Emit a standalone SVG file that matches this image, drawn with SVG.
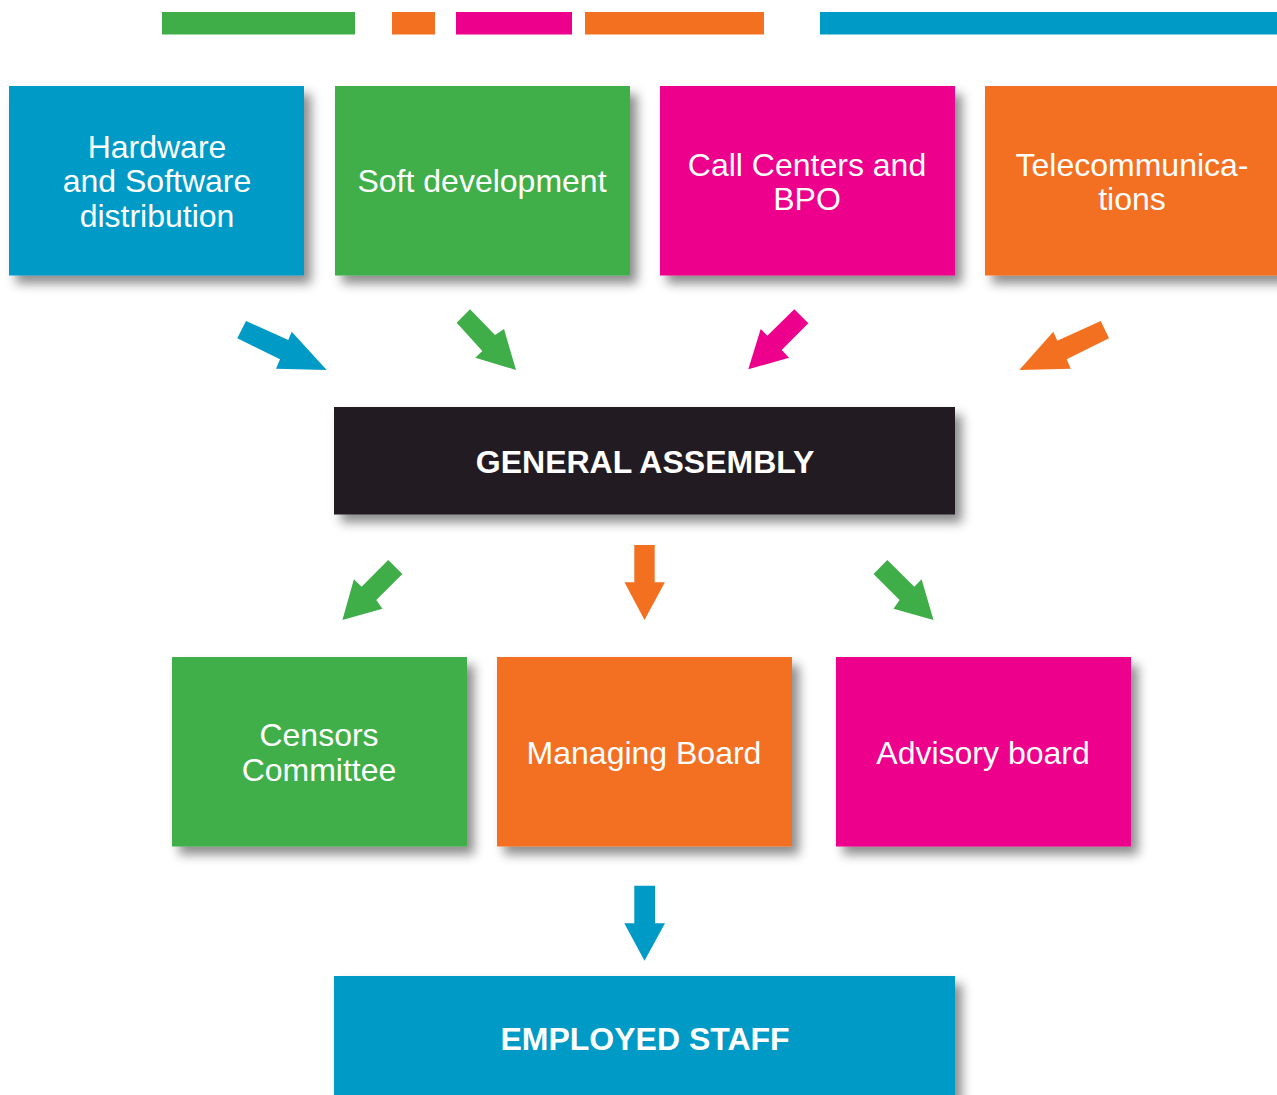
<svg xmlns="http://www.w3.org/2000/svg" width="1277" height="1095" viewBox="0 0 1277 1095">
<defs>
<filter id="sh" x="-10%" y="-20%" width="130%" height="150%">
<feDropShadow dx="7" dy="8" stdDeviation="5.5" flood-color="#000" flood-opacity="0.45"/>
</filter>
<style>
.blue{fill:#009ac7}.green{fill:#3fae49}.pink{fill:#ec008c}.orange{fill:#f37021}.black{fill:#231f20}
.box{filter:url(#sh)}
.t{font-family:"Liberation Sans",Arial,sans-serif;font-size:32px;fill:#fff;text-anchor:middle}
.b{font-family:"Liberation Sans",Arial,sans-serif;font-size:32px;font-weight:bold;fill:#fff;text-anchor:middle}
</style>
</defs>
<rect width="1277" height="1095" fill="#fff"/>
<g id="topbars">
<rect class="green" x="162" y="12" width="193" height="22.5"/>
<rect class="orange" x="392" y="12" width="43" height="22.5"/>
<rect class="pink" x="456" y="12" width="116" height="22.5"/>
<rect class="orange" x="585" y="12" width="179" height="22.5"/>
<rect class="blue" x="820" y="12" width="457" height="22.5"/>
</g>
<g id="hardware"><rect class="box blue" x="9" y="86" width="295" height="189.5"/>
<text class="t" x="157" y="157.5">Hardware</text><text class="t" x="157" y="192">and Software</text><text class="t" x="157" y="226.5">distribution</text></g>
<g id="soft"><rect class="box green" x="335" y="86" width="295" height="189.5"/>
<text class="t" x="482" y="192">Soft development</text></g>
<g id="callcenters"><rect class="box pink" x="660" y="86" width="295" height="189.5"/>
<text class="t" x="807" y="175.5">Call Centers and</text><text class="t" x="807" y="209.5">BPO</text></g>
<g id="telecom"><rect class="box orange" x="985" y="86" width="300" height="189.5"/>
<text class="t" x="1132" y="175.5">Telecommunica-</text><text class="t" x="1132" y="209.5">tions</text></g>
<g id="assembly"><rect class="box black" x="334" y="407" width="621" height="107.5"/>
<text class="b" x="645" y="473">GENERAL ASSEMBLY</text></g>
<g id="censors"><rect class="box green" x="172" y="657" width="295" height="189.5"/>
<text class="t" x="319" y="745.5">Censors</text><text class="t" x="319" y="780.5">Committee</text></g>
<g id="managing"><rect class="box orange" x="497" y="657" width="295" height="189.5"/>
<text class="t" x="644" y="763.5">Managing Board</text></g>
<g id="advisory"><rect class="box pink" x="836" y="657" width="295" height="189.5"/>
<text class="t" x="983" y="763.5">Advisory board</text></g>
<g id="staff"><rect class="box blue" x="334" y="976" width="621" height="130"/>
<text class="b" x="645" y="1050">EMPLOYED STAFF</text></g>
<g id="connectors">
<polygon class="blue" points="246,321 288.3,340 291.7,331.7 326.7,370 276,368.7 280,359.3 237.3,338.3"/>
<polygon class="green" points="470,309.3 495,335 504,329 516,370 475.3,357.7 482.3,351 456.7,322.7"/>
<polygon class="pink" points="794.3,309.3 808.3,323.3 781.7,350 789,357.7 748.3,369.3 760.7,329 767.3,335.7"/>
<polygon class="orange" points="1100.7,321 1109,338.3 1066.7,359.3 1070.7,368.7 1019.3,370 1053.3,331.7 1057.3,340.7"/>
<polygon class="green" points="388.2,560 402.4,574 376.3,600 382.4,608.7 342.4,620 353.9,579.3 361.6,586.7"/>
<polygon class="orange" points="634.3,545 654.7,545 654.7,582.3 664.9,582.3 644.5,620 624.5,582.3 634.3,582.3"/>
<polygon class="green" points="887.3,560 914.3,586.7 921.6,579.3 933.5,620 893.5,608.7 899.6,600 873.5,574"/>
<polygon class="blue" points="634.3,885.7 655,885.7 655,923.3 665,923.3 644.5,960.7 624.3,923.3 634.3,923.3"/>
</g>
</svg>
